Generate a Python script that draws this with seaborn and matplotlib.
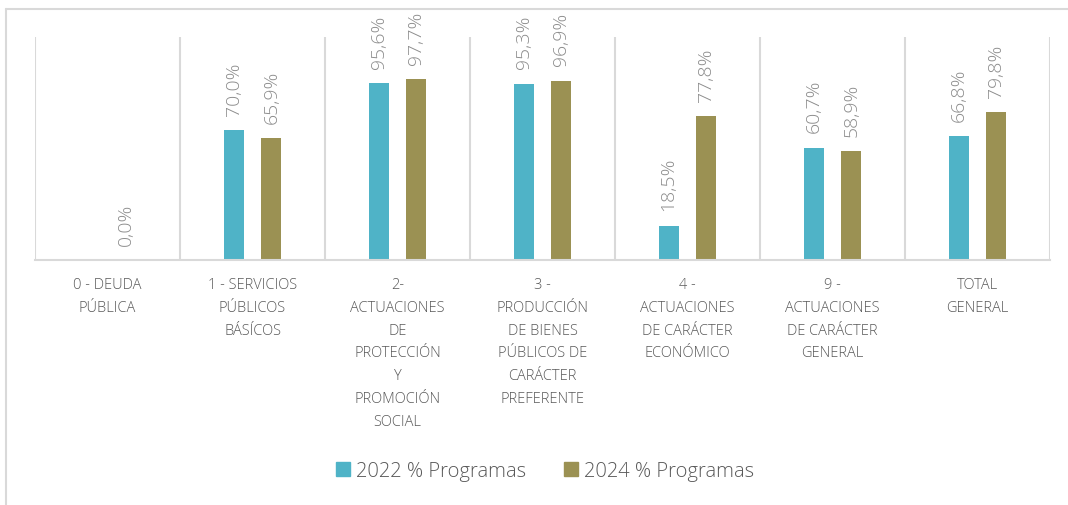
import numpy as np
import pandas as pd
import matplotlib
matplotlib.use("Agg")
import matplotlib.pyplot as plt
from matplotlib.lines import Line2D
import seaborn as sns

categories = [
    "0 - DEUDA\nPÚBLICA",
    "1 - SERVICIOS\nPÚBLICOS\nBÁSÍCOS",
    "2-\nACTUACIONES\nDE\nPROTECCIÓN\nY\nPROMOCIÓN\nSOCIAL",
    "3 -\nPRODUCCIÓN\nDE BIENES\nPÚBLICOS DE\nCARÁCTER\nPREFERENTE",
    "4 -\nACTUACIONES\nDE CARÁCTER\nECONÓMICO",
    "9 -\nACTUACIONES\nDE CARÁCTER\nGENERAL",
    "TOTAL\nGENERAL",
]
series_names = ["2022 % Programas", "2024 % Programas"]
values_2022 = [np.nan, 70.0, 95.6, 95.3, 18.5, 60.7, 66.8]
values_2024 = [0.0, 65.9, 97.7, 96.9, 77.8, 58.9, 79.8]
colors = ["#4FB3C7", "#9B9153"]

df = pd.DataFrame({
    "cat": categories * 2,
    "serie": [series_names[0]] * len(categories) + [series_names[1]] * len(categories),
    "val": values_2022 + values_2024,
})

sns.set_style("white")
plt.rcParams["font.family"] = ["Open Sans", "DejaVu Sans"]

fig = plt.figure(figsize=(10.68, 5.06), dpi=100)
ax = fig.add_axes([35 / 1068, 1 - 261 / 506, (1050 - 35) / 1068, (261 - 38) / 506])

sns.barplot(data=df, x="cat", y="val", hue="serie", order=categories,
            hue_order=series_names, palette=colors, width=0.52, gap=0.47,
            linewidth=0, saturation=1, ax=ax, legend=True, errorbar=None)

ax.set_ylim(0, 120.5)
ax.set_xlim(-0.5, len(categories) - 0.5)
ax.set_xlabel("")
ax.set_ylabel("")
ax.set_yticks([])

for cont in ax.containers:
    ax.bar_label(cont, labels=[("" if np.isnan(v) else f"{v:.1f}%".replace(".", ","))
                               for v in cont.datavalues],
                 rotation=90, padding=11, fontsize=14, color="#8C8C8C", fontweight="light")

ax.set_xticks(range(len(categories)))
ax.set_xticklabels(categories, fontsize=10.5, color="#595959", linespacing=1.72,
                   fontweight="light")
ax.tick_params(axis="x", length=0, pad=12)
ax.set_xticks(np.arange(-0.5, len(categories), 1), minor=True)
ax.tick_params(axis="x", which="minor", length=0)
ax.grid(axis="x", which="minor", color="#D9D9D9", linewidth=1.5)
ax.grid(axis="x", which="major", visible=False)
ax.grid(axis="y", visible=False)
for s in ["top", "right", "left"]:
    ax.spines[s].set_visible(False)
ax.spines["bottom"].set_color("#D9D9D9")
ax.spines["bottom"].set_linewidth(1.5)

leg = ax.get_legend()
if leg is not None:
    leg.remove()
handles = [plt.Rectangle((0, 0), 1, 1, color=c) for c in colors]
fig.legend(handles, series_names, loc="center", bbox_to_anchor=(545 / 1068, 1 - 472 / 506),
           ncol=2, frameon=False, prop={"size": 14.5, "weight": "light"}, labelcolor="#595959",
           handlelength=0.7, handleheight=0.7, handletextpad=0.3, columnspacing=1.9)

# outer chart border (top and left visible)
fig.add_artist(Line2D([6 / 1068, 6 / 1068], [0, 1 - 10 / 506], transform=fig.transFigure,
                      color="#D9D9D9", linewidth=1.5))
fig.add_artist(Line2D([6 / 1068, 1], [1 - 10 / 506, 1 - 10 / 506], transform=fig.transFigure,
                      color="#D9D9D9", linewidth=1.5))

fig.savefig("out.png", dpi=100)
